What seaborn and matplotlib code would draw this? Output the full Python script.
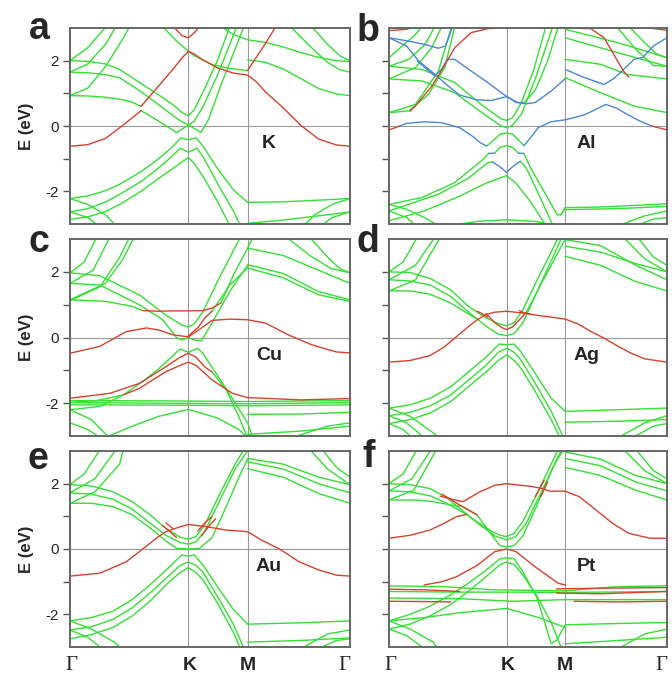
import pandas as pd
import matplotlib
matplotlib.use('Agg')
import matplotlib.pyplot as plt
import seaborn as sns

sns.set_theme(style='white')
plt.rcParams['font.family'] = ['Liberation Sans', 'DejaVu Sans']

GREEN = '#33e033'
RED = '#d8412e'
BLUE = '#4a87d6'

# high-symmetry points along the path, and where their labels sit
KPTS = [0, 0.667, 1.0, 1.577]
KLABELS = ['Γ', 'K', 'M', 'Γ']
KLABEL_X = [0.01, 0.672, 1.0, 1.546]

# ── panel a : K ──────────────────────────────────────────────────────────────
a_red = [
    [(0, -0.62), (0.1, -0.57), (0.2, -0.38), (0.3, 0.03), (0.4, 0.47)],
    [(0.4, 0.6), (0.5, 1.23), (0.58, 1.74), (0.63, 2.08), (0.667, 2.29), (0.7, 2.2), (0.75, 2.02),
     (0.83, 1.78), (0.92, 1.62), (1.0, 1.56), (1.05, 1.35), (1.1, 1.05), (1.2, 0.56), (1.3, 0.02),
     (1.4, -0.4), (1.5, -0.58), (1.577, -0.62)],
    [(0.58, 3.05), (0.63, 2.77), (0.667, 2.70), (0.7, 2.85), (0.73, 3.05)],
    [(1.0, 1.70), (1.1, 2.52), (1.16, 3.05)],
]
a_green = [
    [(0, 2.0), (0.1, 1.98), (0.2, 1.9), (0.28, 1.73), (0.4, 1.3), (0.5, 0.95), (0.58, 0.65), (0.63, 0.42),
     (0.667, 0.31), (0.7, 0.5), (0.75, 1.05), (0.83, 2.0), (0.9, 3.05)],
    [(0, 1.65), (0.1, 1.63), (0.2, 1.57), (0.28, 1.48), (0.4, 1.05), (0.5, 0.65), (0.58, 0.32), (0.63, 0.13),
     (0.667, 0.03), (0.7, 0.15), (0.75, 0.6), (0.83, 1.55), (0.94, 3.05)],
    [(0.4, 0.47), (0.5, 0.15), (0.6, -0.2), (0.667, 0.03), (0.737, -0.2), (0.78, 0.2), (0.85, 1.25), (0.98, 3.05)],
    [(0, 0.93), (0.1, 0.92), (0.2, 0.88), (0.28, 0.82), (0.34, 0.75), (0.4, 0.6)],
    [(0.52, 3.05), (0.6, 2.6), (0.667, 2.29), (0.7, 2.15), (0.8, 1.88), (0.9, 1.76), (1.0, 1.70)],
    [(0, 0.93), (0.1, 1.16), (0.2, 1.82), (0.3, 2.69), (0.336, 3.05)],
    [(0, 1.65), (0.1, 1.9), (0.2, 2.5), (0.26, 3.05)],
    [(0, 2.0), (0.1, 2.4), (0.205, 3.05)],
    [(0.85, 3.05), (0.92, 2.8), (1.0, 2.64), (1.1, 2.56), (1.2, 2.42), (1.3, 2.25), (1.4, 2.1), (1.5, 2.0), (1.577, 1.97)],
    [(1.0, 2.03), (1.1, 1.95), (1.2, 1.75), (1.3, 1.45), (1.4, 1.15), (1.5, 0.98), (1.577, 0.93)],
    [(1.24, 3.05), (1.35, 2.45), (1.45, 1.95), (1.52, 1.72), (1.577, 1.65)],
    [(1.36, 3.05), (1.45, 2.5), (1.52, 2.15), (1.577, 2.0)],
    [(0, -2.22), (0.1, -2.14), (0.2, -1.98), (0.28, -1.78), (0.4, -1.4), (0.5, -1.0), (0.58, -0.62), (0.625, -0.36),
     (0.667, -0.42), (0.71, -0.36), (0.75, -0.62), (0.83, -1.3), (0.92, -1.95), (1.0, -2.34)],
    [(0, -2.63), (0.1, -2.53), (0.2, -2.33), (0.28, -2.09), (0.4, -1.7), (0.5, -1.28), (0.58, -0.9), (0.62, -0.68),
     (0.667, -0.8), (0.715, -0.68), (0.75, -0.95), (0.83, -1.75), (0.92, -2.6), (0.96, -3.05)],
    [(0, -2.86), (0.1, -2.78), (0.2, -2.62), (0.28, -2.4), (0.4, -2.0), (0.5, -1.6), (0.58, -1.3), (0.63, -1.1),
     (0.667, -0.97), (0.7, -1.15), (0.75, -1.55), (0.83, -2.3), (0.9, -3.05)],
    [(1.0, -2.34), (1.2, -2.32), (1.4, -2.27), (1.577, -2.22)],
    [(0.94, -3.05), (1.0, -2.98), (1.2, -2.88), (1.4, -2.75), (1.577, -2.63)],
    [(0, -2.22), (0.1, -2.4), (0.2, -2.72), (0.26, -3.05)],
    [(0, -2.63), (0.1, -2.8), (0.16, -3.05)],
    [(1.317, -3.05), (1.377, -2.72), (1.477, -2.4), (1.577, -2.22)],
    [(1.417, -3.05), (1.477, -2.8), (1.577, -2.63)],
]

# ── panel b : Al ─────────────────────────────────────────────────────────────
b_red = [
    [(0, -0.12), (0.06, 0.0)],
    [(1.49, 0.0), (1.577, -0.12)],
    [(0.12, 0.45), (0.149, 0.61), (0.243, 1.22), (0.308, 1.79), (0.373, 2.4), (0.467, 2.86), (0.56, 2.98), (0.64, 3.0)],
    [(0, 2.92), (0.1, 2.96), (0.15, 3.05)],
    [(0.8, 3.0), (1.0, 3.0), (1.145, 2.98), (1.22, 2.7), (1.275, 2.19), (1.33, 1.68), (1.36, 1.5)],
    [(1.45, 3.02), (1.577, 2.93)],
]
b_blue = [
    [(0.06, 0.0), (0.1, 0.08), (0.2, 0.13), (0.3, 0.1), (0.4, -0.05), (0.47, -0.3), (0.52, -0.52), (0.555, -0.61)],
    [(0.765, -0.6), (0.8, -0.38), (0.846, -0.05), (0.92, 0.13), (1.0, 0.19), (1.107, 0.34), (1.17, 0.5),
     (1.229, 0.66), (1.29, 0.55), (1.35, 0.36), (1.42, 0.16), (1.49, 0.0)],
    [(0, 2.7), (0.11, 2.6), (0.2, 2.5), (0.28, 2.38), (0.32, 2.45), (0.345, 2.8), (0.36, 3.05)],
    [(0, 2.7), (0.1, 2.45), (0.168, 1.99), (0.25, 1.63), (0.33, 1.25), (0.4, 0.95), (0.5, 0.8), (0.58, 0.78),
     (0.667, 0.9), (0.73, 0.72), (0.78, 0.68), (0.83, 0.72), (0.92, 1.07), (1.0, 1.45)],
    [(0.16, 1.99), (0.26, 1.53), (0.3, 1.75), (0.33, 2.04), (0.373, 2.04), (0.467, 1.68), (0.56, 1.33),
     (0.663, 0.92), (0.72, 0.72), (0.765, 0.7)],
    [(1.0, 1.73), (1.1, 1.5), (1.22, 1.27), (1.275, 1.45), (1.33, 1.73), (1.39, 2.04), (1.44, 2.1), (1.5, 2.45), (1.577, 2.7)],
    [(0.565, -0.84), (0.6, -0.83)],
    [(0.735, -0.83), (0.765, -0.84)],
    [(0.587, -1.1), (0.63, -1.25), (0.667, -1.42), (0.7, -1.25), (0.745, -1.08)],
]
b_green = [
    [(0, 1.83), (0.187, 1.73), (0.373, 1.33), (0.523, 0.66), (0.635, 0.22), (0.667, 0.17), (0.7, 0.25),
     (0.75, 0.7), (0.82, 1.7), (0.89, 3.05)],
    [(0, 1.44), (0.187, 1.38), (0.373, 1.02), (0.54, 0.36), (0.635, 0.0), (0.667, -0.05), (0.7, 0.02),
     (0.75, 0.35), (0.83, 1.45), (0.93, 3.05)],
    [(0.765, 0.7), (0.83, 1.1), (0.9, 2.0), (0.96, 3.05)],
    [(0.555, -0.61), (0.6, -0.4), (0.63, -0.25), (0.667, -0.21), (0.7, -0.25), (0.73, -0.4), (0.765, -0.6)],
    [(0, -2.4), (0.187, -2.19), (0.373, -1.73), (0.523, -1.07), (0.565, -0.84)],
    [(0.6, -0.83), (0.63, -0.65), (0.667, -0.6), (0.7, -0.65), (0.735, -0.83)],
    [(0.765, -0.84), (0.8, -1.25), (0.9, -2.2), (0.955, -2.72), (0.975, -2.72), (1.0, -2.5)],
    [(0, -2.6), (0.28, -2.09), (0.45, -1.6), (0.56, -1.12), (0.587, -1.1)],
    [(0.745, -1.08), (0.78, -1.3), (0.85, -2.1), (0.93, -3.05)],
    [(0, -2.9), (0.2, -2.6), (0.4, -2.15), (0.55, -1.75), (0.667, -1.52), (0.72, -1.75), (0.8, -2.3), (0.89, -3.05)],
    [(0, 0.41), (0.112, 0.46), (0.224, 0.97), (0.317, 1.79), (0.373, 3.05)],
    [(0, 0.41), (0.15, 0.66), (0.28, 1.68), (0.355, 3.05)],
    [(0, 2.09), (0.075, 2.45), (0.15, 2.8), (0.187, 3.05)],
    [(0, 1.83), (0.112, 2.04), (0.205, 2.5), (0.26, 3.05)],
    [(0, 1.44), (0.15, 1.79), (0.243, 2.4), (0.3, 3.05)],
    [(1.0, 2.04), (1.2, 1.89), (1.35, 1.58), (1.577, 1.44)],
    [(1.0, 1.48), (1.2, 1.02), (1.39, 0.61), (1.577, 0.41)],
    [(1.0, 2.7), (1.3, 2.24), (1.577, 1.83)],
    [(1.0, 2.96), (1.3, 2.55), (1.577, 2.09)],
    [(1.29, 3.05), (1.4, 2.35), (1.5, 1.85), (1.577, 1.83)],
    [(1.36, 3.05), (1.45, 2.55), (1.52, 2.2), (1.577, 2.09)],
    [(0.975, -2.72), (1.0, -2.5), (1.2, -2.48), (1.4, -2.43), (1.577, -2.38)],
    [(1.0, -2.56), (1.3, -2.53), (1.577, -2.46)],
    [(1.3, -3.05), (1.45, -2.75), (1.577, -2.6)],
    [(1.4, -3.05), (1.5, -2.85), (1.577, -2.8)],
    [(0.35, -3.05), (0.5, -2.92), (0.667, -2.87), (0.83, -2.92), (0.95, -3.05)],
    [(0, -2.4), (0.1, -2.55), (0.2, -2.8), (0.28, -3.05)],
    [(0, -2.6), (0.1, -2.8), (0.15, -3.05)],
]

# ── panel c : Cu ─────────────────────────────────────────────────────────────
c_red = [
    [(0, -0.48), (0.168, -0.27), (0.317, 0.18), (0.43, 0.29), (0.5, 0.23), (0.58, 0.08), (0.667, 0.02),
     (0.73, 0.25), (0.8, 0.52), (0.9, 0.56), (1.0, 0.54), (1.1, 0.44), (1.23, 0.08), (1.36, -0.22),
     (1.5, -0.44), (1.577, -0.47)],
    [(0.41, 0.82), (0.5, 0.8), (0.58, 0.81), (0.667, 0.81), (0.75, 0.82), (0.8, 0.9), (0.85, 1.05)],
    [(0.667, 0.05), (0.72, 0.3), (0.76, 0.6), (0.8, 0.8)],
    [(0, -1.85), (0.224, -1.7), (0.39, -1.4), (0.54, -0.89), (0.62, -0.6), (0.667, -0.48), (0.71, -0.6),
     (0.76, -0.9), (0.8, -1.05)],
    [(0.3, -1.75), (0.39, -1.55), (0.54, -1.04), (0.62, -0.85), (0.667, -0.75), (0.71, -0.85), (0.8, -1.29),
     (0.915, -1.7), (1.0, -1.83), (1.3, -1.9), (1.577, -1.86)],
]
c_green = [
    [(0, 1.97), (0.168, 1.88), (0.39, 1.3), (0.54, 0.68), (0.63, 0.38), (0.667, 0.32), (0.7, 0.42),
     (0.75, 0.8), (0.83, 1.7), (0.92, 2.65), (0.96, 3.05)],
    [(0, 1.65), (0.168, 1.6), (0.39, 1.0), (0.52, 0.55), (0.6, 0.0), (0.63, -0.08), (0.667, 0.0),
     (0.7, -0.08), (0.74, -0.1), (0.8, 0.45), (0.9, 1.4), (1.0, 2.2)],
    [(0.8, 0.8), (0.9, 1.6), (1.0, 2.12)],
    [(0.85, 1.05), (0.92, 1.9), (1.0, 2.72), (1.03, 3.05)],
    [(0, 1.15), (0.2, 1.1), (0.35, 0.95), (0.41, 0.82)],
    [(0, 1.97), (0.08, 2.3), (0.15, 3.05)],
    [(0, 1.65), (0.13, 2.05), (0.224, 3.05)],
    [(0, 1.12), (0.17, 1.55), (0.28, 2.45), (0.336, 3.05)],
    [(0, 1.15), (0.2, 1.65), (0.3, 2.4), (0.36, 3.05)],
    [(0, -2.2), (0.168, -2.1), (0.3, -1.75), (0.42, -1.3), (0.5, -0.95), (0.58, -0.55), (0.62, -0.35),
     (0.667, -0.45), (0.72, -0.33), (0.75, -0.5), (0.83, -1.15), (0.92, -1.9), (1.0, -2.6), (1.03, -3.05)],
    [(0.8, -1.05), (0.88, -1.6), (0.95, -2.4), (1.0, -3.05)],
    [(0, -1.98), (0.15, -1.92), (0.3, -1.75)],
    [(0, -1.92), (0.5, -1.93), (1.0, -1.95), (1.577, -1.92)],
    [(0, -1.98), (0.5, -2.0), (1.0, -2.02), (1.577, -1.98)],
    [(0, -2.05), (0.6, -2.06), (1.0, -2.08), (1.577, -2.05)],
    [(0.2, -3.05), (0.35, -2.7), (0.5, -2.4), (0.667, -2.19), (0.83, -2.45), (0.95, -2.8), (1.0, -3.05)],
    [(0, -2.2), (0.12, -2.5), (0.22, -3.05)],
    [(0, -2.6), (0.1, -2.8), (0.17, -3.05)],
    [(1.0, -2.34), (1.3, -2.33), (1.577, -2.28)],
    [(1.0, -2.95), (1.3, -2.85), (1.577, -2.7)],
    [(1.25, -3.05), (1.45, -2.7), (1.577, -2.6)],
    [(1.0, 2.72), (1.2, 2.5), (1.4, 2.05), (1.577, 1.65)],
    [(1.0, 2.22), (1.2, 1.95), (1.4, 1.4), (1.577, 1.15)],
    [(1.0, 2.12), (1.2, 1.82), (1.4, 1.3), (1.577, 1.1)],
    [(1.22, 3.05), (1.35, 2.5), (1.47, 2.1), (1.577, 1.97)],
    [(1.35, 3.05), (1.45, 2.45), (1.52, 2.1), (1.577, 1.97)],
]

# ── panel d : Ag ─────────────────────────────────────────────────────────────
d_red = [
    [(0, -0.75), (0.12, -0.7), (0.233, -0.55), (0.31, -0.3), (0.384, 0.03), (0.45, 0.33), (0.5, 0.54),
     (0.55, 0.7), (0.6, 0.77), (0.667, 0.8), (0.75, 0.75), (0.85, 0.67), (0.95, 0.6), (1.0, 0.56),
     (1.07, 0.42), (1.14, 0.2), (1.22, -0.02), (1.3, -0.27), (1.37, -0.47), (1.45, -0.65), (1.577, -0.75)],
    [(0.55, 0.73), (0.6, 0.45), (0.64, 0.3), (0.667, 0.24), (0.7, 0.32), (0.75, 0.6), (0.78, 0.78)],
    [(0.5, 0.8), (0.53, 0.72), (0.56, 0.62)],
    [(0.74, 0.82), (0.77, 0.74), (0.8, 0.72)],
]
d_green = [
    [(0, 2.0), (0.12, 1.98), (0.233, 1.8), (0.35, 1.45), (0.45, 0.95), (0.55, 0.6), (0.62, 0.42), (0.667, 0.36),
     (0.71, 0.45), (0.76, 0.85), (0.84, 1.75), (0.92, 2.6), (0.96, 3.05)],
    [(0, 1.76), (0.12, 1.72), (0.233, 1.6), (0.35, 1.25), (0.45, 0.78), (0.55, 0.35), (0.62, 0.1), (0.667, 0.06),
     (0.71, 0.12), (0.76, 0.45), (0.84, 1.4), (0.93, 2.45), (0.98, 3.05)],
    [(0, 1.42), (0.12, 1.42), (0.233, 1.32), (0.35, 1.05), (0.45, 0.72), (0.5, 0.56)],
    [(0.78, 0.78), (0.86, 1.6), (0.95, 2.5), (1.0, 3.0)],
    [(0, 2.0), (0.08, 2.3), (0.16, 3.05)],
    [(0, 1.76), (0.15, 2.2), (0.26, 3.05)],
    [(0, 1.42), (0.15, 1.75), (0.29, 3.05)],
    [(0, -2.15), (0.12, -2.05), (0.233, -1.85), (0.35, -1.5), (0.45, -1.05), (0.55, -0.6), (0.625, -0.2),
     (0.667, -0.22), (0.71, -0.2), (0.75, -0.45), (0.83, -1.1), (0.92, -1.85), (1.0, -2.25)],
    [(0, -2.38), (0.12, -2.28), (0.233, -2.08), (0.35, -1.75), (0.45, -1.3), (0.55, -0.85), (0.62, -0.45),
     (0.667, -0.33), (0.71, -0.45), (0.75, -0.7), (0.83, -1.4), (0.92, -2.25), (0.99, -3.05)],
    [(0, -2.62), (0.12, -2.5), (0.233, -2.3), (0.35, -1.95), (0.45, -1.5), (0.55, -1.05), (0.62, -0.7),
     (0.667, -0.53), (0.71, -0.7), (0.75, -0.95), (0.83, -1.65), (0.92, -2.5), (0.97, -3.05)],
    [(1.0, -2.25), (1.3, -2.2), (1.577, -2.15)],
    [(1.0, -2.58), (1.3, -2.55), (1.577, -2.5)],
    [(0, -2.15), (0.12, -2.4), (0.25, -2.9), (0.28, -3.05)],
    [(0, -2.38), (0.1, -2.6), (0.2, -3.05)],
    [(0, -2.62), (0.08, -2.8), (0.13, -3.05)],
    [(1.3, -3.05), (1.45, -2.6), (1.577, -2.38)],
    [(1.38, -3.05), (1.5, -2.7), (1.577, -2.62)],
    [(1.0, 2.98), (1.2, 2.8), (1.4, 2.2), (1.577, 1.76)],
    [(1.0, 2.78), (1.2, 2.6), (1.4, 2.25), (1.577, 2.0)],
    [(1.0, 2.47), (1.2, 2.2), (1.4, 1.7), (1.577, 1.42)],
    [(1.33, 3.05), (1.45, 2.4), (1.577, 2.0)],
    [(1.41, 3.05), (1.5, 2.45), (1.577, 2.2)],
]

# ── panel e : Au ─────────────────────────────────────────────────────────────
e_red = [
    [(0, -0.83), (0.168, -0.74), (0.317, -0.39), (0.41, 0.0), (0.486, 0.33), (0.54, 0.53), (0.62, 0.68),
     (0.667, 0.75), (0.77, 0.68), (0.88, 0.58), (1.0, 0.53), (1.08, 0.27), (1.18, 0.0), (1.29, -0.39),
     (1.4, -0.64), (1.5, -0.8), (1.577, -0.83)],
    [(0.52, 0.72), (0.56, 0.55), (0.6, 0.35)],
    [(0.54, 0.8), (0.58, 0.62)],
    [(0.72, 0.55), (0.76, 0.8), (0.8, 1.0)],
    [(0.74, 0.4), (0.79, 0.75), (0.82, 0.92)],
]
e_green = [
    [(0, 1.97), (0.12, 1.93), (0.243, 1.75), (0.35, 1.45), (0.45, 1.05), (0.54, 0.63), (0.62, 0.36),
     (0.667, 0.3), (0.71, 0.38), (0.76, 0.75), (0.84, 1.65), (0.93, 2.6), (0.98, 3.05)],
    [(0, 1.72), (0.12, 1.68), (0.243, 1.52), (0.35, 1.22), (0.45, 0.8), (0.54, 0.42), (0.62, 0.2),
     (0.667, 0.15), (0.71, 0.22), (0.76, 0.55), (0.84, 1.45), (0.93, 2.45), (1.0, 3.0)],
    [(0, 1.4), (0.12, 1.4), (0.243, 1.3), (0.35, 1.05), (0.45, 0.65), (0.54, 0.25), (0.6, 0.02), (0.667, 0.0),
     (0.73, 0.02), (0.8, 0.35), (0.88, 1.3), (0.96, 2.3), (1.0, 2.75)],
    [(0, 1.97), (0.08, 2.3), (0.17, 3.05)],
    [(0, 1.72), (0.14, 2.15), (0.26, 3.05)],
    [(0, 1.4), (0.14, 1.75), (0.28, 2.6), (0.3, 3.05)],
    [(0, -2.2), (0.12, -2.1), (0.243, -1.9), (0.35, -1.55), (0.45, -1.1), (0.55, -0.6), (0.63, -0.18),
     (0.667, -0.22), (0.70, -0.18), (0.75, -0.5), (0.83, -1.15), (0.92, -1.85), (1.0, -2.3)],
    [(0, -2.48), (0.12, -2.38), (0.243, -2.15), (0.35, -1.8), (0.45, -1.35), (0.55, -0.85), (0.62, -0.5),
     (0.667, -0.4), (0.71, -0.5), (0.75, -0.72), (0.83, -1.45), (0.92, -2.3), (0.98, -3.05)],
    [(0, -2.75), (0.12, -2.62), (0.243, -2.4), (0.35, -2.05), (0.45, -1.6), (0.55, -1.05), (0.62, -0.72),
     (0.667, -0.57), (0.71, -0.72), (0.75, -0.95), (0.83, -1.65), (0.92, -2.55), (0.96, -3.05)],
    [(1.0, -2.3), (1.3, -2.26), (1.577, -2.2)],
    [(1.0, -2.85), (1.3, -2.8), (1.577, -2.72)],
    [(0, -2.2), (0.12, -2.45), (0.25, -2.85), (0.29, -3.05)],
    [(0, -2.48), (0.1, -2.7), (0.18, -3.05)],
    [(1.3, -3.05), (1.45, -2.6), (1.577, -2.48)],
    [(1.4, -3.05), (1.5, -2.8), (1.577, -2.75)],
    [(1.0, 2.77), (1.2, 2.6), (1.4, 2.2), (1.577, 1.97)],
    [(1.0, 2.67), (1.2, 2.45), (1.4, 2.0), (1.577, 1.72)],
    [(1.0, 2.46), (1.2, 2.2), (1.4, 1.7), (1.577, 1.4)],
    [(1.35, 3.05), (1.45, 2.45), (1.577, 1.97)],
    [(1.42, 3.05), (1.5, 2.5), (1.577, 2.2)],
]

# ── panel f : Pt ─────────────────────────────────────────────────────────────
f_red = [
    [(0, 0.33), (0.12, 0.42), (0.232, 0.58), (0.31, 0.78), (0.383, 0.99), (0.44, 1.06)],
    [(0.29, 1.62), (0.36, 1.52), (0.42, 1.45), (0.515, 1.75), (0.6, 1.95), (0.667, 2.0), (0.8, 1.92),
     (0.874, 1.85), (0.91, 1.77), (1.0, 1.77), (1.08, 1.6), (1.175, 1.19), (1.27, 0.78), (1.36, 0.48),
     (1.48, 0.33), (1.577, 0.33)],
    [(0.3, 1.68), (0.4, 1.35), (0.5, 1.04)],
    [(0.83, 1.6), (0.88, 2.1)],
    [(0.86, 1.6), (0.9, 2.05)],
    [(0.2, -1.1), (0.3, -1.0), (0.383, -0.85), (0.5, -0.5), (0.6, -0.08), (0.667, 0.0), (0.72, -0.08),
     (0.83, -0.55), (0.96, -1.05), (1.0, -1.1)],
    [(0, -1.23), (0.2, -1.25), (0.4, -1.3)],
    [(0, -1.6), (0.2, -1.61), (0.35, -1.62)],
    [(0.95, -1.22), (1.2, -1.2), (1.577, -1.18)],
    [(0.95, -1.35), (1.2, -1.37), (1.577, -1.3)],
    [(1.05, -1.6), (1.3, -1.62), (1.577, -1.6)],
]
f_green = [
    [(0, 2.0), (0.12, 1.97), (0.232, 1.85), (0.32, 1.6), (0.4, 1.25), (0.48, 0.9), (0.58, 0.55), (0.63, 0.42),
     (0.667, 0.38), (0.71, 0.48), (0.76, 0.85), (0.84, 1.7), (0.92, 2.6), (0.96, 3.05)],
    [(0, 1.78), (0.12, 1.75), (0.232, 1.63), (0.32, 1.42), (0.44, 1.06), (0.52, 0.72), (0.6, 0.4),
     (0.667, 0.28), (0.72, 0.38), (0.78, 0.8), (0.86, 1.7), (0.94, 2.6), (0.99, 3.05)],
    [(0, 1.5), (0.15, 1.5), (0.25, 1.45), (0.35, 1.35), (0.42, 1.3), (0.5, 1.04), (0.58, 0.45), (0.63, 0.1),
     (0.667, 0.07), (0.71, 0.1), (0.76, 0.4), (0.84, 1.35), (0.93, 2.5), (0.98, 3.05)],
    [(0, 2.0), (0.08, 2.3), (0.16, 3.05)],
    [(0, 1.78), (0.13, 2.15), (0.24, 3.05)],
    [(0, 1.5), (0.14, 1.8), (0.27, 3.05)],
    [(0, -2.2), (0.12, -2.0), (0.232, -1.75), (0.35, -1.4), (0.45, -1.05), (0.55, -0.65), (0.63, -0.3),
     (0.667, -0.27), (0.71, -0.3), (0.76, -0.7), (0.84, -1.5), (0.92, -2.9), (0.95, -2.8), (1.0, -2.32)],
    [(0, -2.45), (0.12, -2.3), (0.232, -2.05), (0.35, -1.7), (0.45, -1.3), (0.55, -0.85), (0.63, -0.48),
     (0.667, -0.4), (0.71, -0.48), (0.76, -0.8), (0.84, -1.45), (0.92, -2.25), (0.98, -3.05)],
    [(0, -2.2), (0.2, -2.1), (0.4, -1.95), (0.667, -1.82), (0.85, -2.1), (1.0, -2.4)],
    [(0, -1.13), (0.3, -1.15), (0.6, -1.25), (1.0, -1.28), (1.3, -1.15), (1.577, -1.13)],
    [(0, -1.3), (0.4, -1.32), (0.7, -1.32), (1.0, -1.33), (1.577, -1.3)],
    [(0, -1.5), (0.4, -1.52), (0.7, -1.6), (1.0, -1.55), (1.577, -1.55)],
    [(1.0, -2.32), (1.3, -2.28), (1.577, -2.25)],
    [(1.0, -2.9), (1.3, -2.8), (1.577, -2.7)],
    [(1.3, -3.05), (1.45, -2.6), (1.577, -2.45)],
    [(0, -2.2), (0.12, -2.45), (0.25, -2.85), (0.28, -3.05)],
    [(0, -2.45), (0.1, -2.65), (0.2, -3.05)],
    [(1.0, 2.97), (1.2, 2.75), (1.4, 2.25), (1.577, 2.0)],
    [(1.0, 2.77), (1.2, 2.55), (1.4, 2.05), (1.577, 1.78)],
    [(1.0, 2.5), (1.2, 2.25), (1.4, 1.8), (1.577, 1.5)],
    [(1.33, 3.05), (1.45, 2.4), (1.577, 2.0)],
    [(1.4, 3.05), (1.5, 2.4), (1.577, 2.15)],
]


def to_frame(bands):
    rows = []
    for i, pts in enumerate(bands):
        for k, e in pts:
            rows.append((i, k, e))
    return pd.DataFrame(rows, columns=['band', 'k', 'E'])


panels = [
    ('a', 'K', a_green, a_red, []),
    ('b', 'Al', b_green, b_red, b_blue),
    ('c', 'Cu', c_green, c_red, []),
    ('d', 'Ag', d_green, d_red, []),
    ('e', 'Au', e_green, e_red, []),
    ('f', 'Pt', f_green, f_red, []),
]

W, H = 672, 676
cols = [(70, 350), (389, 667)]
rows = [(28, 224), (239, 436), (451, 647)]
letter_pos = {'a': (29, 39), 'b': (357, 41), 'c': (28, 252), 'd': (357, 252),
              'e': (27, 469), 'f': (362, 467)}

fig = plt.figure(figsize=(W / 100, H / 100), dpi=100)

for i, (letter, metal, greens, reds, blues) in enumerate(panels):
    r, c = divmod(i, 2)
    x0, x1 = cols[c]
    y0, y1 = rows[r]
    ax = fig.add_axes([x0 / W, 1 - y1 / H, (x1 - x0) / W, (y1 - y0) / H])

    ax.axvline(KPTS[1], color='#9a9a9a', lw=0.8, zorder=0)
    ax.axvline(KPTS[2], color='#9a9a9a', lw=0.8, zorder=0)
    ax.axhline(0, color='#9a9a9a', lw=0.8, zorder=0)

    for bands, col in [(greens, GREEN), (blues, BLUE), (reds, RED)]:
        if bands:
            sns.lineplot(data=to_frame(bands), x='k', y='E', units='band', estimator=None,
                         color=col, lw=1.0, ax=ax, sort=False, legend=False)

    ax.set_xlim(KPTS[0], KPTS[-1])
    ax.set_ylim(-3, 3)
    ax.set_xlabel('')
    ax.set_xticks([])
    ax.set_yticks([-2, -1, 0, 1, 2])
    if c == 0:
        ax.set_yticklabels(['-2', '', '0', '', '2'], fontsize=11)
        ax.set_ylabel('E (eV)', fontsize=12, fontweight='bold', labelpad=8)
    else:
        ax.set_yticklabels([])
        ax.set_ylabel('')
    ax.tick_params(axis='y', left=True, direction='out', length=5, width=1, color='#555555', pad=3)

    # k-path labels under the bottom row
    if r == 2:
        ybase = -(670 - y1) / (y1 - y0)
        for xl, lab in zip(KLABEL_X, KLABELS):
            if lab == 'Γ':
                ax.text(xl, ybase, lab, transform=ax.get_xaxis_transform(), ha='center', va='baseline',
                        fontsize=15, family=['Liberation Serif', 'DejaVu Serif'])
            else:
                ax.text(xl, ybase, lab, transform=ax.get_xaxis_transform(), ha='center', va='baseline',
                        fontsize=14, fontweight='bold')

    for s in ax.spines.values():
        s.set_color('#666666')
        s.set_linewidth(1.4)

    ax.text(1.12, -0.55, metal, fontsize=14, fontweight='bold', ha='center', va='center')
    lx, ly = letter_pos[letter]
    fig.text(lx / W, 1 - ly / H, letter, fontsize=27, fontweight='bold', ha='left', va='baseline')

fig.savefig('out.png', dpi=100)
